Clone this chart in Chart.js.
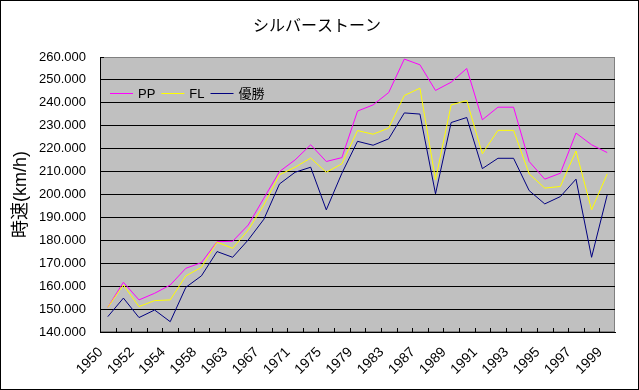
<!DOCTYPE html>
<html lang="ja">
<head>
<meta charset="utf-8">
<title>シルバーストーン</title>
<script src="https://cdn.jsdelivr.net/npm/chart.js@4.4.1/dist/chart.umd.min.js"></script>
<style>
  html, body { margin: 0; padding: 0; background: #fff; }
  #wrap { width: 639px; height: 390px; }
</style>
</head>
<body>
<div id="wrap"><canvas id="chart" width="639" height="390"></canvas></div>
<script>
// 開催年（シルバーストーン）
const years = ['1950', '1951', '1952', '1953', '1954', '1956', '1958', '1960', '1963', '1965',
  '1967', '1969', '1971', '1973', '1975', '1977', '1979', '1981', '1983', '1985',
  '1987', '1988', '1989', '1990', '1991', '1992', '1993', '1994', '1995', '1996',
  '1997', '1998', '1999'];

// km/h
const ppSpeeds = [150.8, 161.7, 154.0, 156.9, 160.5, 167.8, 170.3, 179.4, 179.6, 186.7,
  198.4, 210.0, 215.1, 221.7, 214.4, 216.1, 236.4, 239.1, 244.5, 259.1,
  256.6, 245.4, 249.0, 255.0, 232.6, 238.1, 238.1, 214.4, 206.7, 209.3,
  226.8, 221.7, 218.3];
const flSpeeds = [150.8, 160.5, 151.1, 153.7, 154.0, 164.5, 168.2, 179.2, 176.5, 184.5,
  195.5, 208.6, 211.9, 215.9, 209.7, 213.4, 227.9, 226.3, 229.0, 243.2,
  246.4, 206.4, 239.1, 241.0, 217.8, 228.0, 228.0, 209.0, 202.8, 203.5,
  219.0, 193.3, 209.0];
const winnerSpeeds = [146.7, 154.8, 146.3, 149.6, 144.5, 159.5, 164.5, 175.1, 172.6, 180.2,
  189.2, 204.6, 209.7, 211.9, 193.3, 209.3, 223.2, 221.5, 224.3, 235.6,
  235.1, 200.3, 231.4, 233.6, 211.3, 215.8, 215.8, 201.7, 195.9, 199.1,
  206.7, 172.6, 199.8];

const seriesColors = ['#ff00ff', '#ffff00', '#000080'];

const yMin = 140;
const yMax = 260;
const yStep = 10;

const FONT = '"Liberation Sans", "Noto Sans CJK JP", sans-serif';

// 背景・枠
const plotFrame = {
  id: 'plotFrame',
  beforeDraw(chart) {
    const { ctx, chartArea: a, width, height } = chart;
    ctx.save();
    ctx.fillStyle = '#ffffff';
    ctx.fillRect(0, 0, width, height);
    ctx.fillStyle = '#c0c0c0';
    ctx.fillRect(a.left, a.top, a.right - a.left, a.bottom - a.top);
    ctx.strokeStyle = '#808080';
    ctx.lineWidth = 1;
    ctx.strokeRect(a.left + 0.5, a.top + 0.5, a.right - a.left - 1, a.bottom - a.top - 1);
    ctx.restore();
  },
  afterDraw(chart) {
    const { ctx, chartArea: a, width, height, scales } = chart;
    ctx.save();
    ctx.strokeStyle = '#000000';
    ctx.lineWidth = 1;
    // 内向きの目盛り
    const n = scales.x.ticks.length;
    const w = (a.right - a.left) / n;
    ctx.beginPath();
    for (let i = 1; i < n; i++) {
      const x = Math.round(a.left + i * w) + 0.5;
      ctx.moveTo(x, a.bottom);
      ctx.lineTo(x, a.bottom - 4);
    }
    ctx.moveTo(a.left, a.top + 0.5);
    ctx.lineTo(a.left + 4, a.top + 0.5);
    ctx.stroke();
    ctx.strokeRect(0.5, 0.5, width - 1, height - 1);
    ctx.restore();
  }
};

// グラフ内の凡例
const insideLegend = {
  id: 'insideLegend',
  afterDraw(chart) {
    const { ctx, chartArea } = chart;
    let x = chartArea.left + 10;
    const y = chartArea.top + 36;
    ctx.save();
    ctx.font = '13px ' + FONT;
    ctx.textBaseline = 'middle';
    chart.data.datasets.forEach((ds, i) => {
      ctx.fillStyle = seriesColors[i];
      ctx.fillRect(x, y, 23, 1);
      x += 28;
      ctx.fillStyle = '#000000';
      ctx.fillText(ds.label, x, y + 1);
      x += ctx.measureText(ds.label).width + 6;
    });
    ctx.restore();
  }
};

const ctx = document.getElementById('chart').getContext('2d');

new Chart(ctx, {
  type: 'line',
  data: {
    labels: years,
    datasets: [
      { label: 'PP', data: ppSpeeds, borderColor: seriesColors[0], order: 2 },
      { label: 'FL', data: flSpeeds, borderColor: seriesColors[1], order: 1 },
      { label: '優勝', data: winnerSpeeds, borderColor: seriesColors[2], order: 0 }
    ]
  },
  options: {
    responsive: false,
    animation: false,
    devicePixelRatio: 1,
    layout: { padding: { left: 0, right: 5, top: 0, bottom: 0 } },
    elements: {
      line: { borderWidth: 1, tension: 0, fill: false },
      point: { radius: 0, hoverRadius: 0 }
    },
    plugins: {
      legend: { display: false },
      tooltip: { enabled: false },
      title: {
        display: true,
        text: 'シルバーストーン',
        color: '#000000',
        font: { family: '"Noto Sans CJK JP", sans-serif', size: 16, weight: 'normal' },
        padding: { top: 15.4, bottom: 22.4 }
      }
    },
    scales: {
      x: {
        offset: true,
        grid: { display: false },
        border: { display: true, color: '#000000', width: 1 },
        ticks: {
          autoSkip: false,
          minRotation: 45,
          maxRotation: 45,
          padding: 4,
          labelOffset: -7,
          color: '#000000',
          font: { family: FONT, size: 14 },
          callback: function (val, index) {
            return index % 2 === 0 ? this.getLabelForValue(val) : '';
          }
        },
        afterFit(scale) { scale.height = 58; }
      },
      y: {
        min: yMin,
        max: yMax,
        grid: {
          drawTicks: false,
          color: c => (c.tick && c.tick.value === yMax ? '#808080' : '#000000'),
          lineWidth: 1
        },
        border: { display: true, color: '#000000', width: 1 },
        ticks: {
          stepSize: yStep,
          padding: 14,
          color: '#000000',
          font: { family: FONT, size: 13 },
          callback: v => v.toFixed(3)
        },
        title: {
          display: true,
          text: '時速(km/h)',
          color: '#000000',
          font: { family: FONT, size: 18 },
          padding: { top: 10, bottom: 0 }
        },
        afterFit(scale) { scale.width = 100; }
      },
      yPad: {
        position: 'right',
        display: true,
        grid: { display: false },
        border: { display: false },
        ticks: { display: false },
        afterFit(scale) { scale.width = 19; }
      }
    }
  },
  plugins: [plotFrame, insideLegend]
});
</script>
</body>
</html>
